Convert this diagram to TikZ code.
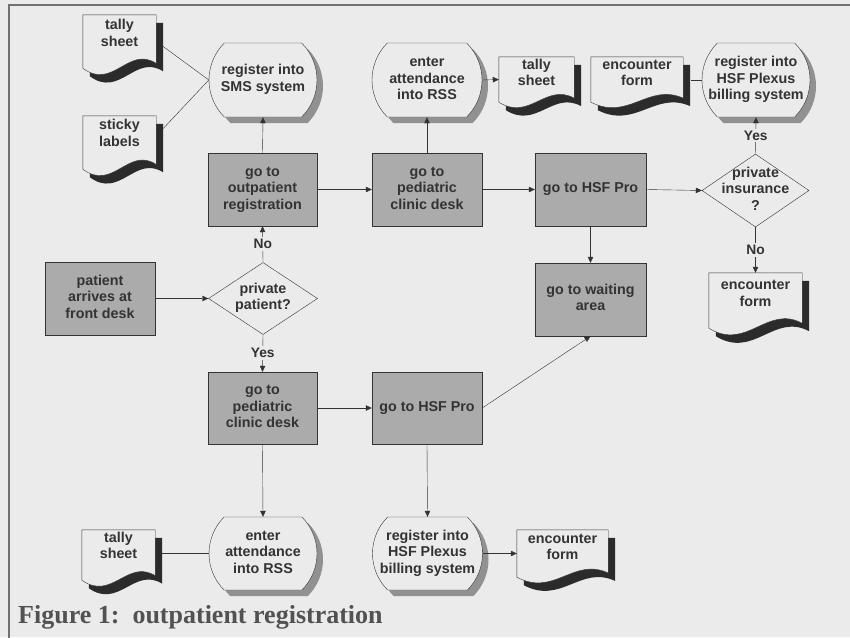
\documentclass[tikz,border=0pt]{standalone}
\usepackage{fontspec}
\newfontfamily\arialfont{Liberation Sans}
\newfontfamily\timesfont{Liberation Serif}
\usetikzlibrary{shapes.geometric,shapes.misc,arrows.meta,calc,shadows}
\definecolor{paper}{gray}{0.92}
\definecolor{ink}{gray}{0.2}
\definecolor{boxgray}{gray}{0.67}
\pgfdeclarelayer{paper}
\pgfdeclarelayer{docs}
\pgfsetlayers{paper,docs,main}
% text of fixed-size shapes, kept out of the shape size
\newcommand{\celltext}[2][-3.5pt]{\raisebox{#1}[0pt][0pt]{\makebox[0pt]{\begin{tabular}{@{}c@{}}#2\end{tabular}}}}
% document symbol with wavy bottom and dark shadow
\newcommand{\drawdoc}[1]{%
  \foreach \dx/\dy/\docstyle in {7pt/-8pt/docshadow,0pt/0pt/docface}{
    \path[\docstyle] let \p1=(#1.south west), \p2=(#1.north east), \n1={\x2-\x1}, \n2={\y2-\y1} in
      ($(#1.north west)+(\dx,\dy)$) -- ($(#1.north east)+(\dx,\dy)$)
      -- ($(#1.south east)+(\dx,\dy+0.09*\n2)$)
      .. controls ($(#1.south east)+(\dx-0.38*\n1,\dy+0.43*\n2)$) and ($(#1.south west)+(\dx+0.41*\n1,\dy-0.42*\n2)$) .. ($(#1.south west)+(\dx,\dy)$) -- cycle;
  }}

\begin{document}
\begin{tikzpicture}[
			x=1pt, y=-1pt,
			line width=1.1pt,
			every node/.style={text=ink, inner sep=0pt, font=\arialfont\bfseries\fontsize{14.3}{16.5}\selectfont},
			process/.style={rectangle, draw=ink, fill=boxgray, minimum width=110pt, minimum height=73pt},
			terminal/.style={rounded rectangle, rounded rectangle arc length=90, draw=ink, fill=paper, minimum width=108pt, minimum height=74pt, drop shadow={shadow xshift=6pt, shadow yshift=-6pt, fill=boxgray!85!black, opacity=1}},
			decision/.style={diamond, draw=ink, fill=paper, minimum width=109pt, minimum height=72pt},
			docbox/.style={rectangle, minimum width=73pt, minimum height=53pt},
			docshadow/.style={fill=ink!85!black},
			docface/.style={fill=paper, draw=ink},
			answer/.style={fill=paper, inner sep=2pt, font=\arialfont\bfseries\fontsize{13.8}{16}\selectfont},
			arrow/.style={draw=ink, -{Triangle[length=6pt,width=5.5pt]}},
			link/.style={draw=ink},
			caption/.style={font=\timesfont\bfseries\fontsize{26}{30}\selectfont, text=ink!85}
			]
			
			% Page
			\begin{pgfonlayer}{paper}
				\fill[paper] (0,0) rectangle (850,637);
			\end{pgfonlayer}
			\useasboundingbox (0,0) rectangle (850,637);
			\draw[draw=ink!70, line width=1.8pt] (9,640) -- (9,5) -- (853,5);
			
			% Private patient branch (top row)
			\node[docbox] (tallyA) at (119.5,41.5) {\celltext[3pt]{tally\\sheet}};
			\node[docbox] (sticky) at (119.5,142.5) {\celltext[4pt]{sticky\\labels}};
			\node[terminal] (sms) at (263,80) {\celltext{register into\\SMS system}};
			\node[process, minimum width=109pt] (outreg) at (262.5,189.5) {\celltext{go to\\outpatient\\registration}};
			\node[process] (pedA) at (427,189.5) {\celltext{go to\\pediatric\\clinic desk}};
			\node[terminal, minimum width=110pt] (attA) at (427,80) {\celltext{enter\\attendance\\into RSS}};
			\node[docbox, minimum width=75pt, minimum height=45pt] (tallyB) at (536.5,79.5) {\celltext[1.5pt]{tally\\sheet}};
			\node[docbox, minimum width=92pt, minimum height=45pt] (encA) at (637,79.5) {\celltext[1.5pt]{encounter\\form}};
			\node[terminal] (plexA) at (756,80) {\celltext{register into\\HSF Plexus\\billing system}};
			\node[process, minimum width=111pt] (hsfA) at (590.5,189.5) {\celltext{go to HSF Pro}};
			\node[decision, minimum width=107pt, minimum height=73pt] (privins) at (755.5,190.5) {\celltext{private\\insurance\\?}};
			\node[docbox, minimum width=93pt, minimum height=55pt] (encB) at (755.5,300.5) {\celltext[2pt]{encounter\\form}};
			\node[process, minimum width=111pt] (wait) at (590.5,299.5) {\celltext{go to waiting\\area}};
			
			% Arrival and decision
			\node[process] (arrive) at (100,298.5) {\celltext{patient\\arrives at\\front desk}};
			\node[decision] (privpat) at (263,298.5) {\celltext{private\\patient?}};
			
			% Clinic patient branch (bottom row)
			\node[process, minimum width=109pt, minimum height=72pt] (pedB) at (262.5,408) {\celltext{go to\\pediatric\\clinic desk}};
			\node[process, minimum height=72pt] (hsfB) at (427,408) {\celltext{go to HSF Pro}};
			\node[terminal, minimum height=73pt] (attB) at (263,553.5) {\celltext{enter\\attendance\\into RSS}};
			\node[terminal, minimum width=110pt, minimum height=73pt] (plexB) at (427.5,553.5) {\celltext{register into\\HSF Plexus\\billing system}};
			\node[docbox, minimum height=50pt] (tallyC) at (118.5,555) {\celltext[4pt]{tally\\sheet}};
			\node[docbox, minimum width=91pt, minimum height=47pt] (encC) at (562.5,553.5) {\celltext[1.5pt]{encounter\\form}};
			
			% Document outlines
			\begin{pgfonlayer}{docs}
				\foreach \doc in {tallyA,sticky,tallyB,encA,encB,tallyC,encC} {\drawdoc{\doc}}
			\end{pgfonlayer}
			
			% Connections
			\draw[link] ([shift={(7pt,-5pt)}]tallyA.east) -- (sms.west);
			\draw[link] ([shift={(7pt,14pt)}]sticky.east) -- (sms.west);
			\draw[arrow] (outreg.north) -- (sms.south);
			\draw[arrow] (outreg.east) -- (pedA.west);
			\draw[arrow] (pedA.north) -- (attA.south);
			\draw[arrow] (attA.east) -- (tallyB.west);
			\draw[link] (plexA.west) -- ([xshift=8pt]plexA.west -| encA.east);
			\draw[arrow] (pedA.east) -- (hsfA.west);
			\draw[arrow] (hsfA.east) -- (privins.west);
			\draw[arrow] (hsfA.south) -- (wait.north);
			\draw[arrow] (privins.north) -- node[answer] {Yes} (plexA.south);
			\draw[arrow] (privins.south) -- node[answer] {No} (encB.north);
			
			\draw[arrow] (arrive.east) -- (privpat.west);
			\draw[arrow] (privpat.north) -- node[answer] {No} (outreg.south);
			\draw[arrow] (privpat.south) -- node[answer] {Yes} (pedB.north);
			
			\draw[arrow] (pedB.east) -- (hsfB.west);
			\draw[arrow] (pedB.south) -- (attB.north);
			\draw[link] (attB.west) -- ([xshift=7pt]attB.west -| tallyC.east);
			\draw[arrow] (hsfB.east) -- (wait.south);
			\draw[arrow] (hsfB.south) -- (plexB.north);
			\draw[arrow] (plexB.east) -- (plexB.east -| encC.west);
			
			% Caption
			\node[caption, anchor=base west] (caption) at (18,623) {Figure 1:\ \ outpatient registration};
			
		\end{tikzpicture}
\end{document}
